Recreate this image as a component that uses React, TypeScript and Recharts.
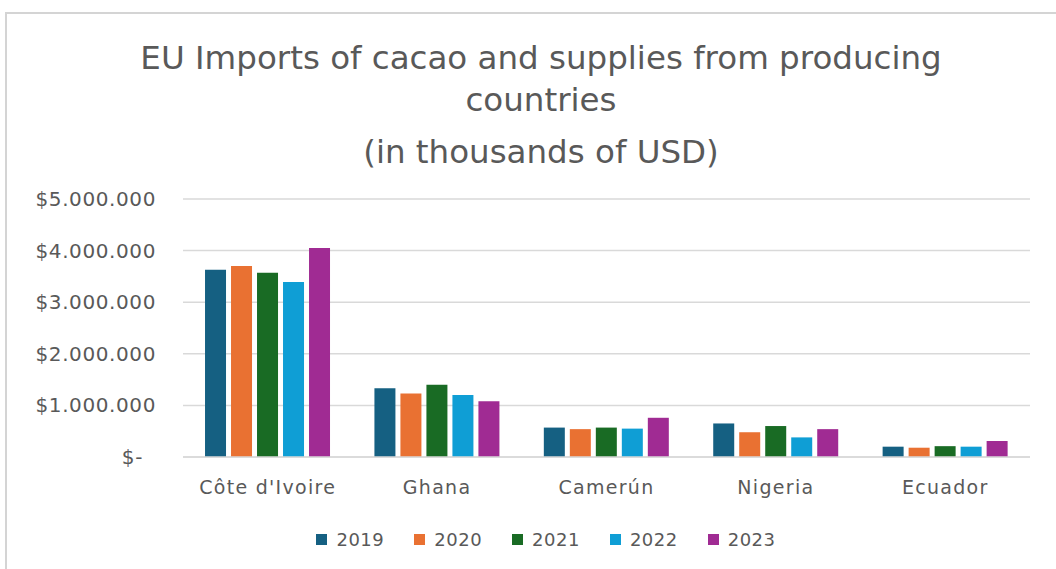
import React from 'react';
import { BarChart, Bar, XAxis, YAxis, CartesianGrid, Legend } from 'recharts';

const categories = ["Côte d'Ivoire", 'Ghana', 'Camerún', 'Nigeria', 'Ecuador'];
const years = ['2019', '2020', '2021', '2022', '2023'];
const v2019 = [3630000, 1330000, 570000, 650000, 200000];
const v2020 = [3700000, 1230000, 540000, 480000, 180000];
const v2021 = [3570000, 1400000, 570000, 600000, 210000];
const v2022 = [3390000, 1200000, 550000, 380000, 200000];
const v2023 = [4050000, 1080000, 760000, 540000, 310000];
const seriesValues = [v2019, v2020, v2021, v2022, v2023];
const colors = ['#156082', '#E97132', '#196B24', '#0F9ED5', '#A02B93'];
const yTicks = [0, 1000000, 2000000, 3000000, 4000000, 5000000];
const titleLines = ['EU Imports of cacao and supplies from producing', 'countries', '(in thousands of USD)'];

const data = categories.map((c, i) => {
  const row: Record<string, string | number> = { name: c };
  years.forEach((y, k) => {
    row[y] = seriesValues[k][i];
  });
  return row;
});

const FONT = '"DejaVu Sans", sans-serif';
const TEXT = '#595959';

const fmt = (v: number) => {
  if (v === 0) return '$-';
  return '$' + Math.round(v).toString().replace(/\B(?=(\d{3})+(?!\d))/g, '.');
};

const YTick = (props: any) => {
  const { x, y, payload } = props;
  const isZero = payload.value === 0;
  return (
    <text
      x={isZero ? x - 32 : x - 19}
      y={y}
      dy={7}
      textAnchor="end"
      fill={TEXT}
      fontSize={20}
      letterSpacing={0.6}
      fontFamily={FONT}
    >
      {fmt(payload.value)}
    </text>
  );
};

const XTick = (props: any) => {
  const { x, y, payload } = props;
  return (
    <text x={x} y={y} dy={29} textAnchor="middle" fill={TEXT} fontSize={19} letterSpacing={1.3} fontFamily={FONT}>
      {payload.value}
    </text>
  );
};

const LegendContent = () => (
  <div
    style={{
      display: 'flex',
      justifyContent: 'center',
      fontFamily: FONT,
      fontSize: 18,
      color: TEXT,
      paddingLeft: 36,
    }}
  >
    {years.map((y, k) => (
      <div key={y} style={{ display: 'flex', alignItems: 'center', marginRight: k < years.length - 1 ? 30 : 0 }}>
        <span style={{ display: 'inline-block', width: 11, height: 11, background: colors[k], marginRight: 9 }} />
        <span style={{ letterSpacing: 0.5 }}>{y}</span>
      </div>
    ))}
  </div>
);

export default function App() {
  return (
    <div style={{ position: 'absolute', left: 0, top: 0, width: 1056, height: 569, background: '#fff', overflow: 'hidden' }}>
      <div
        style={{
          position: 'absolute',
          left: 5,
          top: 12,
          width: 1100,
          height: 600,
          border: '2px solid #d4d4d4',
          boxSizing: 'border-box',
        }}
      />
      {titleLines.map((t, i) => (
        <div
          key={i}
          style={{
            position: 'absolute',
            left: 0,
            width: 1082,
            top: [38, 80, 132][i],
            textAlign: 'center',
            fontFamily: FONT,
            fontSize: 32.5,
            color: TEXT,
            lineHeight: '40px',
            whiteSpace: 'nowrap',
          }}
        >
          {t}
        </div>
      ))}
      <div style={{ position: 'absolute', left: 0, top: 0 }}>
        <BarChart
          width={1056}
          height={569}
          data={data}
          margin={{ top: 199, right: 26, bottom: 38, left: 0 }}
          barCategoryGap="13%"
          barGap={5}
        >
          <CartesianGrid vertical={false} stroke="#d9d9d9" strokeWidth={1.5} />
          <YAxis
            width={183}
            domain={[0, 5000000]}
            ticks={yTicks}
            interval={0}
            axisLine={false}
            tickLine={false}
            tick={<YTick />}
          />
          <XAxis
            dataKey="name"
            axisLine={{ stroke: '#d9d9d9', strokeWidth: 1.5 }}
            tickLine={false}
            tick={<XTick />}
            height={53}
          />
          <Legend content={<LegendContent />} wrapperStyle={{ top: 529, left: 0, width: 1056 }} />
          {years.map((y, k) => (
            <Bar key={y} dataKey={y} fill={colors[k]} isAnimationActive={false} />
          ))}
        </BarChart>
      </div>
    </div>
  );
}
